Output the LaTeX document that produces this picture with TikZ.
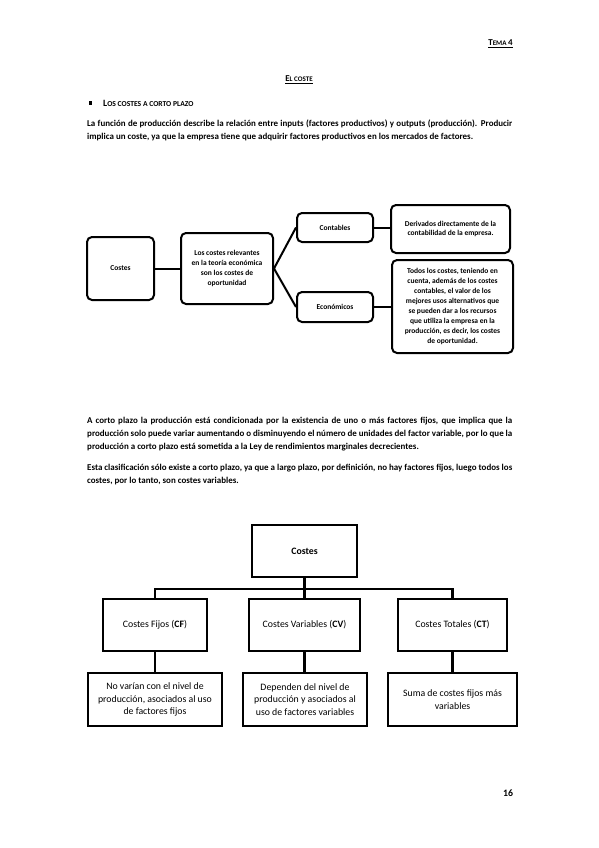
\documentclass[tikz,border=0pt]{standalone}
\usepackage{fontspec}
\setmainfont{Carlito}
\begin{document}
\begin{tikzpicture}[x=1pt,y=-1pt,
  rbox/.style={draw, line width=2pt, rounded corners=5pt, align=center, inner sep=0pt,
    font=\bfseries\fontsize{7.5}{9.9}\selectfont},
  sbox/.style={draw, line width=2.3pt, align=center, inner sep=0pt,
    font=\fontsize{9.8}{12.4}\selectfont},
  link/.style={line width=2pt},
  link2/.style={line width=2.2pt},
  para/.style={anchor=north west, inner sep=0pt, text width=425pt, align=justify,
    font=\bfseries\fontsize{8.95}{12.8}\selectfont},
  hdr/.style={inner sep=0pt, font=\bfseries}]
\useasboundingbox (0,0) rectangle (599,848);
\fill[white] (0,0) rectangle (599,848);

% header texts
\node[hdr, anchor=base east] (tema) at (513,46)
  {\underline{{\fontsize{9}{10}\selectfont T}{\fontsize{7}{8}\selectfont EMA}\,{\fontsize{9}{10}\selectfont 4}}};
\node[hdr, anchor=base] (titulo) at (299,82)
  {\underline{{\fontsize{9}{10}\selectfont E}{\fontsize{7}{8}\selectfont L COSTE}}};
\node[fill=black, inner sep=0pt, minimum size=3.4pt] (bul) at (90.5,103) {};
\node[hdr, anchor=base west] (sub) at (103,106.5)
  {{\fontsize{9.6}{10}\selectfont L}{\fontsize{7.6}{8}\selectfont OS COSTES A CORTO PLAZO}};

\node[para] (p1) at (87,120) {\hyphenpenalty=10000\relax\exhyphenpenalty=10000\relax La función de producción describe la relación entre inputs (factores productivos) y outputs (producción). Producir implica un coste, ya que la empresa tiene que adquirir factores productivos en los mercados de factores.};

% diagram 1
\node[rbox, minimum width=67pt, minimum height=63pt] (c1) at (120.5,268.5) {Costes};
\node[rbox, minimum width=92pt, minimum height=71pt] (c2) at (227,268.5)
  {Los costes relevantes\\en la teoría económica\\son los costes de\\oportunidad};
\node[rbox, minimum width=76pt, minimum height=29pt] (cont) at (335,227.5) {Contables};
\node[rbox, minimum width=76pt, minimum height=30pt] (eco) at (335,307) {Económicos};
\node[rbox, minimum width=119pt, minimum height=48pt] (der) at (450.5,229)
  {Derivados directamente de la\\contabilidad de la empresa.};
\node[rbox, minimum width=121pt, minimum height=93pt] (todos) at (452.5,306.5)
  {Todos los costes, teniendo en\\cuenta, además de los costes\\contables, el valor de los\\mejores usos alternativos que\\se pueden dar a los recursos\\que utiliza la empresa en la\\producción, es decir, los costes\\de oportunidad.};
\draw[link] (c1.east) -- (c2.west);
\draw[link] (c2.east) -- (cont.west);
\draw[link] (c2.east) -- (eco.west);
\draw[link] (cont.east) -- (cont.east -| der.west);
\draw[link] (eco.east) -- (eco.east -| todos.west);

% paragraphs
\node[para] (p2) at (87,417) {\hyphenpenalty=10000\relax A corto plazo la producción está condicionada por la existencia de uno o más factores fijos, que implica que la producción solo puede variar aumentando o disminuyendo el número de unidades del factor variable, por lo que la producción a corto plazo está sometida a la Ley de rendimientos marginales decrecientes.};
\node[para] (p3) at (87,464) {\hyphenpenalty=10000\relax Esta clasificación sólo existe a corto plazo, ya que a largo plazo, por definición, no hay factores fijos, luego todos los costes, por lo tanto, son costes variables.};

% diagram 2
\node[sbox, minimum width=105pt, minimum height=52pt, font=\bfseries\fontsize{9.8}{12.4}\selectfont] (top) at (304.5,551) {Costes};
\node[sbox, minimum width=104pt, minimum height=52pt] (cf) at (155,625) {Costes Fijos (\textbf{CF})};
\node[sbox, minimum width=111pt, minimum height=52pt] (cv) at (304.5,625) {Costes Variables (\textbf{CV})};
\node[sbox, minimum width=109pt, minimum height=52pt] (ct) at (452.5,625) {Costes Totales (\textbf{CT})};
\node[sbox, minimum width=134pt, minimum height=53pt] (b1) at (155,699.5)
  {No varían con el nivel de\\producción, asociados al uso\\de factores fijos};
\node[sbox, minimum width=124pt, minimum height=53pt] (b2) at (305,699.5)
  {Dependen del nivel de\\producción y asociados al\\uso de factores variables};
\node[sbox, minimum width=129pt, minimum height=53pt] (b3) at (452.5,699.5)
  {Suma de costes fijos más\\variables};
\coordinate (bus) at (304.5,589);
\draw[link2] (top.south) -- (bus);
\draw[link2] (cf.north) -- (cf.north |- bus) -- (ct.north |- bus) -- (ct.north);
\draw[link2] (cv.north) -- (cv.north |- bus);
\draw[link2] (cf.south) -- (b1.north);
\draw[link2] (cv.south) -- (cv.south |- b2.north);
\draw[link2] (ct.south) -- (b3.north);

\node[hdr, anchor=base, font=\bfseries\fontsize{9.8}{11}\selectfont] (pg) at (508,796) {16};
\end{tikzpicture}
\end{document}
